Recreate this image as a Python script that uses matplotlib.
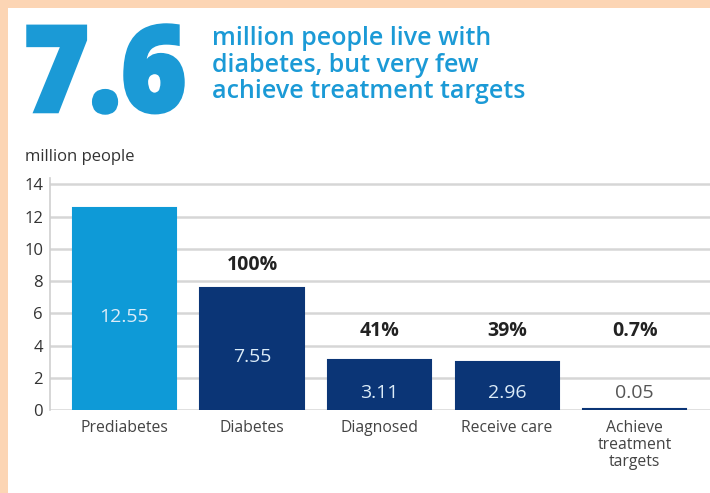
import matplotlib
matplotlib.use('Agg')
import matplotlib.pyplot as plt
from matplotlib.patches import Rectangle, PathPatch
from matplotlib.textpath import TextPath
from matplotlib.font_manager import FontProperties
from matplotlib.transforms import Affine2D, IdentityTransform

# data
categories = ['Prediabetes', 'Diabetes', 'Diagnosed', 'Receive care', 'Achieve\ntreatment\ntargets']
values = [12.55, 7.55, 3.11, 2.96, 0.05]
value_labels = ['12.55', '7.55', '3.11', '2.96', '0.05']
pct_labels = ['', '100%', '41%', '39%', '0.7%']
yticks = [0, 2, 4, 6, 8, 10, 12, 14]
big_number = '7.6'

# styles / layout
bar_colors = ['#0e9ad7', '#0b3576', '#0b3576', '#0b3576', '#0b3576']
value_colors = ['#dcecf8', '#dcecf8', '#dcecf8', '#dcecf8', '#555555']
value_y = [5.8, 3.3, 1.05, 1.05, 1.05]
pct_y = [0, 9.0, 4.9, 4.9, 4.9]
blue = '#1b9ad6'
peach = '#fcd5b4'
W, H = 710, 493

plt.rcParams['font.family'] = ['Open Sans', 'DejaVu Sans']

fig = plt.figure(figsize=(W / 100, H / 100), dpi=100)
fig.patch.set_facecolor(peach)
# white panel inside the peach frame
fig.patches.append(Rectangle((8 / W, 0), 1, 1 - 8 / H, transform=fig.transFigure,
                             facecolor='white', edgecolor='none', zorder=-5))

ax = fig.add_axes([50 / W, 1 - 410 / H, 1 - 50 / W, 232 / H])
ax.set_zorder(2)
ax.set_facecolor('none')
x = list(range(len(categories)))
ax.bar(x, values, width=0.81, color=bar_colors, edgecolor=bar_colors, linewidth=1.5, zorder=3)

for i in x:
    ax.text(i, value_y[i], value_labels[i], ha='center', va='center',
            fontsize=14, color=value_colors[i], zorder=4)
    if pct_labels[i]:
        ax.text(i, pct_y[i], pct_labels[i], ha='center', va='center',
                fontsize=14, fontweight='bold', color='#222222', zorder=4)

ax.set_xlim(-0.584, 4.59)
ax.set_ylim(0, 14.4)
ax.set_yticks(yticks)
ax.set_xticks(x)
ax.set_xticklabels(categories, fontsize=11.3, color='#444444', linespacing=1.1)
ax.tick_params(axis='y', length=0, labelsize=12, labelcolor='#333333', pad=5)
ax.tick_params(axis='x', length=0, pad=7)
ax.grid(axis='y', color='#d6d6d6', linewidth=1.8, zorder=1)
for s in ['top', 'right', 'bottom']:
    ax.spines[s].set_visible(False)
ax.spines['left'].set_color('#cfcfcf')
ax.spines['left'].set_linewidth(1.2)

# headline: big condensed number, squeezed from a heavy text path
tp = TextPath((0, 0), big_number, size=100, prop=FontProperties(family='Open Sans', weight=800))
ext = tp.get_extents()
x0, x1, ytop, ybot = 28, 183, 25, 113
sx = (x1 - x0) / ext.width
sy = (ybot - ytop) / ext.height
tr = Affine2D().translate(-ext.x0, -ext.y0).scale(sx, sy).translate(x0, H - ybot)
fig.patches.append(PathPatch(tr.transform_path(tp), transform=IdentityTransform(),
                             facecolor=blue, edgecolor=blue, linewidth=2.5, zorder=3))

fig.text(212 / W, 1 - 26 / H, 'million people live with\ndiabetes, but very few\nachieve treatment targets',
         fontsize=18, fontweight='semibold', color=blue, ha='left', va='top', linespacing=1.08)
fig.text(25 / W, 1 - 157 / H, 'million people', fontsize=12, color='#333333', ha='left', va='center')

fig.savefig('out.png', dpi=100, facecolor=fig.get_facecolor())
